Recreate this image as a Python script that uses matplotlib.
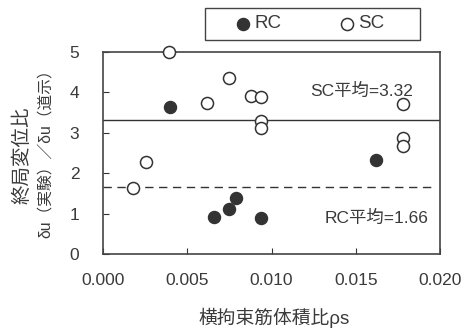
import matplotlib
matplotlib.use("Agg")
import matplotlib.pyplot as plt
from matplotlib.lines import Line2D
from matplotlib.patches import Rectangle

plt.rcParams['font.family'] = ['Liberation Sans', 'Noto Sans CJK JP', 'DejaVu Sans']

# data
rc_x = [0.0040, 0.0162, 0.0079, 0.0075, 0.0066, 0.0094]
rc_y = [3.64, 2.33, 1.39, 1.11, 0.92, 0.89]
sc_x = [0.0039, 0.0075, 0.0062, 0.0088, 0.0094, 0.0094, 0.0094, 0.00255, 0.0018, 0.0178, 0.0178, 0.0178]
sc_y = [5.00, 4.36, 3.74, 3.90, 3.88, 3.29, 3.12, 2.28, 1.63, 3.72, 2.88, 2.68]
sc_mean = 3.32
rc_mean = 1.66
xticks = [0.000, 0.005, 0.010, 0.015, 0.020]
xtick_labels = ['0.000', '0.005', '0.010', '0.015', '0.020']
yticks = [0, 1, 2, 3, 4, 5]

tc = '#3a3a3a'
mc = '#333333'
W, H = 469, 330

fig = plt.figure(figsize=(4.69, 3.30), dpi=100)
ax = fig.add_axes([103/W, 1-254/H, 337/W, 202/H])

ax.axhline(sc_mean, color=mc, lw=1.0, zorder=1)
ax.plot([0, 0.0197], [rc_mean, rc_mean], color=mc, lw=1.0, ls=(0, (6, 4)), zorder=1)

ax.scatter(sc_x, sc_y, s=75, facecolors='white', edgecolors=mc, linewidths=1.1, zorder=3, clip_on=False)
ax.scatter(rc_x, rc_y, s=75, facecolors=mc, edgecolors=mc, linewidths=1.0, zorder=3, clip_on=False)

ax.set_xlim(0, 0.020)
ax.set_ylim(0, 5)
ax.set_xticks(xticks)
ax.set_xticklabels(xtick_labels)
ax.set_yticks(yticks)
ax.tick_params(direction='in', length=4, width=0.8, colors=mc, labelcolor=tc, labelsize=12.5)
ax.tick_params(axis='x', pad=14)
ax.tick_params(axis='y', pad=17)
for s in ax.spines.values():
    s.set_color('#444444')
    s.set_linewidth(1.2)

ax.text(0.0184, 4.03, 'SC平均=3.32', ha='right', va='center', fontsize=12.5, color=tc)
ax.text(0.0193, 0.89, 'RC平均=1.66', ha='right', va='center', fontsize=12.5, color=tc)

fig.text(274/W, 1-318/H, '横拘束筋体積比ρs', ha='center', va='center', fontsize=13.5, color=tc)
fig.text(22/W, 1-155/H, '終局変位比', ha='center', va='center', rotation=90, fontsize=14, color=tc)
fig.text(45/W, 1-150/H, 'δu（実験）／δu（道示）', ha='center', va='center', rotation=90, fontsize=11.3, color=tc)

# legend box
fig.patches.append(Rectangle((205/W, 1-40/H), 215/W, 32/H, transform=fig.transFigure,
                             facecolor='white', edgecolor='#444444', lw=1.0))
fig.add_artist(Line2D([243/W], [1-24/H], transform=fig.transFigure, marker='o', ls='none',
                      markersize=8.7, markerfacecolor=mc, markeredgecolor=mc))
fig.add_artist(Line2D([347/W], [1-24/H], transform=fig.transFigure, marker='o', ls='none',
                      markersize=8.7, markerfacecolor='white', markeredgecolor=mc, markeredgewidth=1.1))
fig.text(254/W, 1-24/H, 'RC', ha='left', va='center', fontsize=13.5, color=tc)
fig.text(358/W, 1-24/H, 'SC', ha='left', va='center', fontsize=13.5, color=tc)

fig.savefig('out.png', dpi=100)
